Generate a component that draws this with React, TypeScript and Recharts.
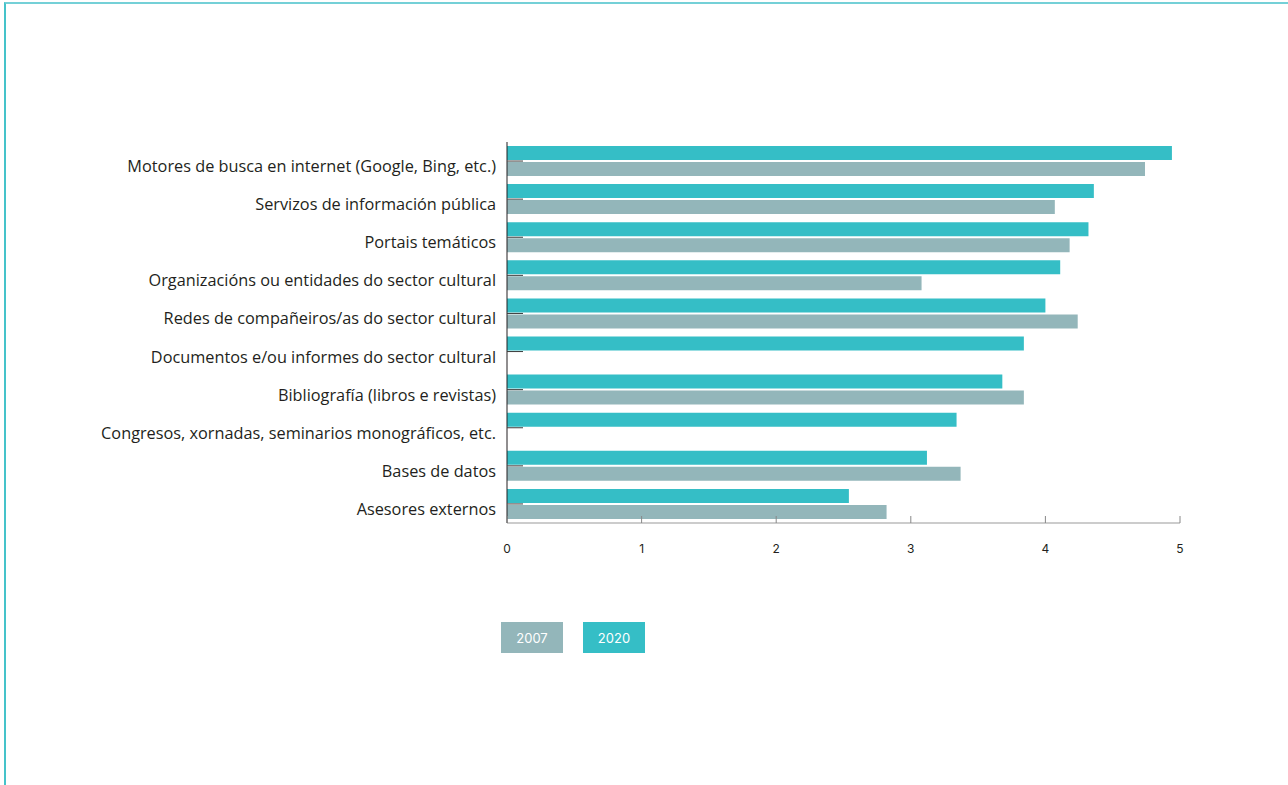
import React from "react";
import { BarChart, Bar, XAxis, YAxis } from "recharts";

const categories = [
  "Motores de busca en internet (Google, Bing, etc.)",
  "Servizos de información pública",
  "Portais temáticos",
  "Organizacións ou entidades do sector cultural",
  "Redes de compañeiros/as do sector cultural",
  "Documentos e/ou informes do sector cultural",
  "Bibliografía (libros e revistas)",
  "Congresos, xornadas, seminarios monográficos, etc.",
  "Bases de datos",
  "Asesores externos",
];
const values2020 = [4.94, 4.36, 4.32, 4.11, 4.0, 3.84, 3.68, 3.34, 3.12, 2.54];
const values2007: (number | null)[] = [4.74, 4.07, 4.18, 3.08, 4.24, null, 3.84, null, 3.37, 2.82];
const xTicks = [0, 1, 2, 3, 4, 5];
const seriesLabels = ["2007", "2020"];

const TEAL = "#35BEC6";
const GREY = "#93B6BA";

const data = categories.map((name, i) => ({
  name,
  y2020: values2020[i],
  y2007: values2007[i],
}));

const YTick = (props: any) => {
  const { x, y, payload } = props;
  return (
    <g>
      <line x1={x} x2={x + 16} y1={y} y2={y} stroke="#3a3a3a" strokeWidth={1} />
      <text
        x={x - 11}
        y={y}
        dy={11}
        textAnchor="end"
        fill="#231F20"
        fontSize={16.3}
        fontFamily="'Open Sans', 'Noto Sans', sans-serif"
      >
        {payload.value}
      </text>
    </g>
  );
};

const XTick = (props: any) => {
  const { x, y, payload } = props;
  return (
    <g>
      <line x1={x} x2={x} y1={y - 7} y2={y} stroke="#888" strokeWidth={1} />
      <text
        x={x}
        y={y + 26}
        dy={4}
        textAnchor="middle"
        fill="#231F20"
        fontSize={12}
        fontFamily="Inter, 'Noto Sans', sans-serif"
      >
        {payload.value}
      </text>
    </g>
  );
};

export default function App() {
  return (
    <div style={{ position: "absolute", left: 0, top: 0, width: 1288, height: 785, background: "#fff" }}>
      <div
        style={{
          position: "absolute",
          left: 4,
          top: 2,
          right: 0,
          bottom: 0,
          borderTop: "2px solid #74D0D7",
          borderLeft: "2px solid #45C3CA",
        }}
      />
      <div style={{ position: "absolute", left: 0, top: 0 }}>
        <BarChart
          width={1288}
          height={785}
          data={data}
          layout="vertical"
          margin={{ top: 142, right: 108, bottom: 232, left: 0 }}
          barSize={14}
          barGap={2}
        >
          <XAxis
            type="number"
            domain={[0, 5]}
            ticks={xTicks}
            height={30}
            axisLine={{ stroke: "#999", strokeWidth: 1 }}
            tickLine={false}
            tickSize={0}
            tickMargin={0}
            tick={<XTick />}
            interval={0}
          />
          <YAxis
            type="category"
            dataKey="name"
            width={507}
            axisLine={{ stroke: "#231F20", strokeWidth: 1 }}
            tickLine={false}
            tickSize={0}
            tickMargin={0}
            tick={<YTick />}
            interval={0}
          />
          <Bar dataKey="y2020" fill={TEAL} isAnimationActive={false} />
          <Bar dataKey="y2007" fill={GREY} isAnimationActive={false} />
        </BarChart>
      </div>
      {seriesLabels.map((label, i) => (
        <div
          key={label}
          style={{
            position: "absolute",
            left: 501 + i * 82,
            top: 622,
            width: 62,
            height: 31,
            background: i === 0 ? GREY : TEAL,
            color: "#fff",
            fontFamily: "Inter, 'Noto Sans', sans-serif",
            fontSize: 13,
            display: "flex",
            alignItems: "center",
            justifyContent: "center",
          }}
        >
          {label}
        </div>
      ))}
    </div>
  );
}
